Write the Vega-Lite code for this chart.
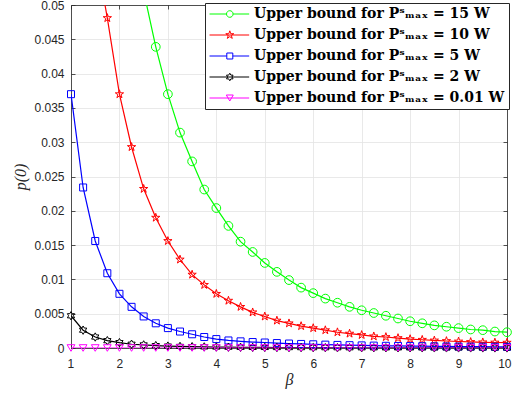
{
"$schema": "https://vega.github.io/schema/vega-lite/v6.json",
"width": 436, "height": 343,
"autosize": {"type": "none"},
"padding": {"left": 71, "top": 5, "right": 6, "bottom": 48},
"background": "white",
"datasets": {"d": [
{"P":"15","beta":2.5,"p":0.052},{"P":"15","beta":2.75,"p":0.0439},{"P":"15","beta":3,"p":0.037},{"P":"15","beta":3.25,"p":0.0314},{"P":"15","beta":3.5,"p":0.0272},{"P":"15","beta":3.75,"p":0.0231},{"P":"15","beta":4,"p":0.0204},{"P":"15","beta":4.25,"p":0.0178},{"P":"15","beta":4.5,"p":0.0155},{"P":"15","beta":4.75,"p":0.014},{"P":"15","beta":5,"p":0.0124},{"P":"15","beta":5.25,"p":0.0111},{"P":"15","beta":5.5,"p":0.0099},{"P":"15","beta":5.75,"p":0.0088},{"P":"15","beta":6,"p":0.008},{"P":"15","beta":6.25,"p":0.0072},{"P":"15","beta":6.5,"p":0.0066},{"P":"15","beta":6.75,"p":0.006},{"P":"15","beta":7,"p":0.0055},{"P":"15","beta":7.25,"p":0.0051},{"P":"15","beta":7.5,"p":0.0047},{"P":"15","beta":7.75,"p":0.0043},{"P":"15","beta":8,"p":0.0039},{"P":"15","beta":8.25,"p":0.0036},{"P":"15","beta":8.5,"p":0.0033},{"P":"15","beta":8.75,"p":0.0031},{"P":"15","beta":9,"p":0.0029},{"P":"15","beta":9.25,"p":0.0027},{"P":"15","beta":9.5,"p":0.0026},{"P":"15","beta":9.75,"p":0.0024},{"P":"15","beta":10,"p":0.0023},
{"P":"10","beta":1.5,"p":0.058},{"P":"10","beta":1.75,"p":0.0481},{"P":"10","beta":2,"p":0.037},{"P":"10","beta":2.25,"p":0.0293},{"P":"10","beta":2.5,"p":0.0232},{"P":"10","beta":2.75,"p":0.019},{"P":"10","beta":3,"p":0.0156},{"P":"10","beta":3.25,"p":0.0129},{"P":"10","beta":3.5,"p":0.0107},{"P":"10","beta":3.75,"p":0.0092},{"P":"10","beta":4,"p":0.0079},{"P":"10","beta":4.25,"p":0.0069},{"P":"10","beta":4.5,"p":0.006},{"P":"10","beta":4.75,"p":0.0052},{"P":"10","beta":5,"p":0.0046},{"P":"10","beta":5.25,"p":0.004},{"P":"10","beta":5.5,"p":0.0036},{"P":"10","beta":5.75,"p":0.0032},{"P":"10","beta":6,"p":0.0029},{"P":"10","beta":6.25,"p":0.0026},{"P":"10","beta":6.5,"p":0.0023},{"P":"10","beta":6.75,"p":0.0021},{"P":"10","beta":7,"p":0.0019},{"P":"10","beta":7.25,"p":0.0017},{"P":"10","beta":7.5,"p":0.0016},{"P":"10","beta":7.75,"p":0.00145},{"P":"10","beta":8,"p":0.0013},{"P":"10","beta":8.25,"p":0.0012},{"P":"10","beta":8.5,"p":0.0011},{"P":"10","beta":8.75,"p":0.00102},{"P":"10","beta":9,"p":0.00095},{"P":"10","beta":9.25,"p":0.00088},{"P":"10","beta":9.5,"p":0.00083},{"P":"10","beta":9.75,"p":0.0008},{"P":"10","beta":10,"p":0.00078},
{"P":"5","beta":1,"p":0.037},{"P":"5","beta":1.25,"p":0.0234},{"P":"5","beta":1.5,"p":0.0156},{"P":"5","beta":1.75,"p":0.0109},{"P":"5","beta":2,"p":0.0079},{"P":"5","beta":2.25,"p":0.006},{"P":"5","beta":2.5,"p":0.0046},{"P":"5","beta":2.75,"p":0.0036},{"P":"5","beta":3,"p":0.0029},{"P":"5","beta":3.25,"p":0.0024},{"P":"5","beta":3.5,"p":0.002},{"P":"5","beta":3.75,"p":0.0016},{"P":"5","beta":4,"p":0.0013},{"P":"5","beta":4.25,"p":0.0011},{"P":"5","beta":4.5,"p":0.00097},{"P":"5","beta":4.75,"p":0.00087},{"P":"5","beta":5,"p":0.0008},{"P":"5","beta":5.25,"p":0.00072},{"P":"5","beta":5.5,"p":0.00065},{"P":"5","beta":5.75,"p":0.00059},{"P":"5","beta":6,"p":0.00054},{"P":"5","beta":6.25,"p":0.00049},{"P":"5","beta":6.5,"p":0.00045},{"P":"5","beta":6.75,"p":0.00041},{"P":"5","beta":7,"p":0.00038},{"P":"5","beta":7.25,"p":0.00035},{"P":"5","beta":7.5,"p":0.00032},{"P":"5","beta":7.75,"p":0.0003},{"P":"5","beta":8,"p":0.00028},{"P":"5","beta":8.25,"p":0.00026},{"P":"5","beta":8.5,"p":0.00024},{"P":"5","beta":8.75,"p":0.00023},{"P":"5","beta":9,"p":0.00021},{"P":"5","beta":9.25,"p":0.0002},{"P":"5","beta":9.5,"p":0.00019},{"P":"5","beta":9.75,"p":0.00018},{"P":"5","beta":10,"p":0.00017},
{"P":"2","beta":1,"p":0.0047},{"P":"2","beta":1.25,"p":0.0026},{"P":"2","beta":1.5,"p":0.0016},{"P":"2","beta":1.75,"p":0.00107},{"P":"2","beta":2,"p":0.00078},{"P":"2","beta":2.25,"p":0.00055},{"P":"2","beta":2.5,"p":0.00045},{"P":"2","beta":2.75,"p":0.00035},{"P":"2","beta":3,"p":0.00028},{"P":"2","beta":3.25,"p":0.00023},{"P":"2","beta":3.5,"p":0.00019},{"P":"2","beta":3.75,"p":0.00016},{"P":"2","beta":4,"p":0.00014},{"P":"2","beta":4.25,"p":0.00012},{"P":"2","beta":4.5,"p":0.0001},{"P":"2","beta":4.75,"p":0.00009},{"P":"2","beta":5,"p":0.00008},{"P":"2","beta":5.25,"p":0.00007},{"P":"2","beta":5.5,"p":0.000063},{"P":"2","beta":5.75,"p":0.000056},{"P":"2","beta":6,"p":0.00005},{"P":"2","beta":6.25,"p":0.000045},{"P":"2","beta":6.5,"p":0.00004},{"P":"2","beta":6.75,"p":0.000036},{"P":"2","beta":7,"p":0.000033},{"P":"2","beta":7.25,"p":0.00003},{"P":"2","beta":7.5,"p":0.000027},{"P":"2","beta":7.75,"p":0.000025},{"P":"2","beta":8,"p":0.000023},{"P":"2","beta":8.25,"p":0.000021},{"P":"2","beta":8.5,"p":0.00002},{"P":"2","beta":8.75,"p":0.000018},{"P":"2","beta":9,"p":0.000017},{"P":"2","beta":9.25,"p":0.000016},{"P":"2","beta":9.5,"p":0.000015},{"P":"2","beta":9.75,"p":0.000014},{"P":"2","beta":10,"p":0.000013},
{"P":"0.01","beta":1,"p":0},{"P":"0.01","beta":1.25,"p":0},{"P":"0.01","beta":1.5,"p":0},{"P":"0.01","beta":1.75,"p":0},{"P":"0.01","beta":2,"p":0},{"P":"0.01","beta":2.25,"p":0},{"P":"0.01","beta":2.5,"p":0},{"P":"0.01","beta":2.75,"p":0},{"P":"0.01","beta":3,"p":0},{"P":"0.01","beta":3.25,"p":0},{"P":"0.01","beta":3.5,"p":0},{"P":"0.01","beta":3.75,"p":0},{"P":"0.01","beta":4,"p":0},{"P":"0.01","beta":4.25,"p":0},{"P":"0.01","beta":4.5,"p":0},{"P":"0.01","beta":4.75,"p":0},{"P":"0.01","beta":5,"p":0},{"P":"0.01","beta":5.25,"p":0},{"P":"0.01","beta":5.5,"p":0},{"P":"0.01","beta":5.75,"p":0},{"P":"0.01","beta":6,"p":0},{"P":"0.01","beta":6.25,"p":0},{"P":"0.01","beta":6.5,"p":0},{"P":"0.01","beta":6.75,"p":0},{"P":"0.01","beta":7,"p":0},{"P":"0.01","beta":7.25,"p":0},{"P":"0.01","beta":7.5,"p":0},{"P":"0.01","beta":7.75,"p":0},{"P":"0.01","beta":8,"p":0},{"P":"0.01","beta":8.25,"p":0},{"P":"0.01","beta":8.5,"p":0},{"P":"0.01","beta":8.75,"p":0},{"P":"0.01","beta":9,"p":0},{"P":"0.01","beta":9.25,"p":0},{"P":"0.01","beta":9.5,"p":0},{"P":"0.01","beta":9.75,"p":0},{"P":"0.01","beta":10,"p":0}
]},
"data": {"name": "d"},
"config": {
  "view": {"stroke": null},
  "axis": {"labelFont": "Liberation Sans", "labelFontSize": 12, "labelColor": "#262626", "labelFlush": false, "domainColor": "#262626", "domainWidth": 0.8, "tickColor": "#262626", "tickWidth": 0.8, "gridColor": "#e3e3e3", "gridWidth": 0.8, "tickSize": -4, "titleFont": "Liberation Serif", "titleFontStyle": "italic", "titleFontWeight": "normal", "titleFontSize": 16, "titleColor": "#262626"},
  "legend": {"orient": "top-right", "offset": -2, "title": null, "padding": 4, "strokeColor": "#262626", "fillColor": "white", "labelFont": "DejaVu Serif", "labelFontWeight": "bold", "labelFontSize": 14, "labelColor": "#000000", "labelOffset": 31, "rowPadding": 7, "gridAlign": "all", "symbolSize": 144, "symbolStrokeWidth": 1, "symbolOpacity": 1, "symbolFillColor": "transparent", "labelLimit": 400}
},
"resolve": {"axis": {"x": "independent", "y": "independent"}},
"layer": [
  {
    "encoding": {
      "x": {"field": "beta", "type": "quantitative", "scale": {"domain": [1, 10], "nice": false}, "axis": {"values": [1,2,3,4,5,6,7,8,9,10], "title": "β", "labelPadding": 14, "titlePadding": 2, "grid": true, "labelFlush": true, "labelFlushOffset": 4}},
      "y": {"field": "p", "type": "quantitative", "scale": {"domain": [0, 0.05], "nice": false}, "axis": {"values": [0,0.005,0.01,0.015,0.02,0.025,0.03,0.035,0.04,0.045,0.05], "format": ".3~f", "title": "p(0)", "labelPadding": 11, "titlePadding": 5, "grid": true}},
      "color": {"field": "P", "type": "nominal", "scale": {"domain": ["15","10","5","2","0.01"], "range": ["#00ff00","#ff0000","#0000ff","#000000","#ff00ff"]}}
    },
    "layer": [
      {"mark": {"type": "line", "strokeWidth": 1.2, "clip": true}, "encoding": {"detail": {"field": "P"}}},
      {"transform": [{"filter": "datum.P == '15' && datum.p <= 0.05"}], "mark": {"type": "point", "shape": "circle", "size": 76, "filled": false, "strokeWidth": 1, "opacity": 1}},
      {"transform": [{"filter": "datum.P == '10' && datum.p <= 0.05"}], "mark": {"type": "point", "shape": "M0,-1L0.2245,-0.309L0.951,-0.309L0.3633,0.118L0.588,0.809L0,0.382L-0.588,0.809L-0.3633,0.118L-0.951,-0.309L-0.2245,-0.309Z", "size": 76, "filled": false, "strokeWidth": 1, "opacity": 1}},
      {"transform": [{"filter": "datum.P == '5' && datum.p <= 0.05"}], "mark": {"type": "point", "shape": "square", "size": 49, "filled": false, "strokeWidth": 1, "opacity": 1}},
      {"transform": [{"filter": "datum.P == '2' && datum.p <= 0.05"}], "mark": {"type": "point", "shape": "M0,-1L0.2887,-0.5L0.866,-0.5L0.577,0L0.866,0.5L0.2887,0.5L0,1L-0.2887,0.5L-0.866,0.5L-0.577,0L-0.866,-0.5L-0.2887,-0.5Z", "size": 70, "filled": false, "strokeWidth": 1, "opacity": 1}},
      {"transform": [{"filter": "datum.P == '0.01' && datum.p <= 0.05"}], "mark": {"type": "point", "shape": "M-1,-0.85L1,-0.85L0,0.85Z", "size": 60, "filled": false, "strokeWidth": 1, "opacity": 1}}
    ]
  },
  {
    "transform": [{"filter": "datum.beta == 10"}],
    "mark": {"type": "point", "filled": false, "strokeWidth": 1, "opacity": 0},
    "encoding": {
      "x": {"field": "beta", "type": "quantitative", "axis": {"orient": "top", "values": [1,2,3,4,5,6,7,8,9,10], "labels": false, "grid": false, "title": null}},
      "y": {"field": "p", "type": "quantitative", "axis": {"orient": "right", "values": [0,0.005,0.01,0.015,0.02,0.025,0.03,0.035,0.04,0.045,0.05], "labels": false, "grid": false, "title": null}},
      "color": {"field": "P", "type": "nominal", "scale": {"domain": ["15","10","5","2","0.01"], "range": ["#00ff00","#ff0000","#0000ff","#000000","#ff00ff"]},
        "legend": {"labelExpr": "'Upper bound for Pˢₘₐₓ = ' + datum.label + ' W'"}},
      "shape": {"field": "P", "type": "nominal", "scale": {"domain": ["15","10","5","2","0.01"], "range": [
          "M-1.08,0L1.75,0M2.85,0L5.53,0M2.85,0A0.55,0.55 0 1 1 1.75,0A0.55,0.55 0 1 1 2.85,0",
          "M-1.08,0L5.53,0M2.3,-0.7L2.457,-0.216L2.966,-0.216L2.554,0.083L2.712,0.566L2.3,0.267L1.888,0.566L2.046,0.083L1.634,-0.216L2.143,-0.216Z",
          "M-1.08,0L1.8,0M2.8,0L5.53,0M1.8,-0.5L2.8,-0.5L2.8,0.5L1.8,0.5Z",
          "M-1.08,0L5.53,0M2.3,-0.63L2.482,-0.315L2.846,-0.315L2.664,0L2.846,0.315L2.482,0.315L2.3,0.63L2.118,0.315L1.754,0.315L1.936,0L1.754,-0.315L2.118,-0.315Z",
          "M-1.08,0L5.53,0M1.72,-0.5L2.88,-0.5L2.3,0.5Z"]},
        "legend": {"labelExpr": "'Upper bound for Pˢₘₐₓ = ' + datum.label + ' W'"}}
    }
  }
]
}
